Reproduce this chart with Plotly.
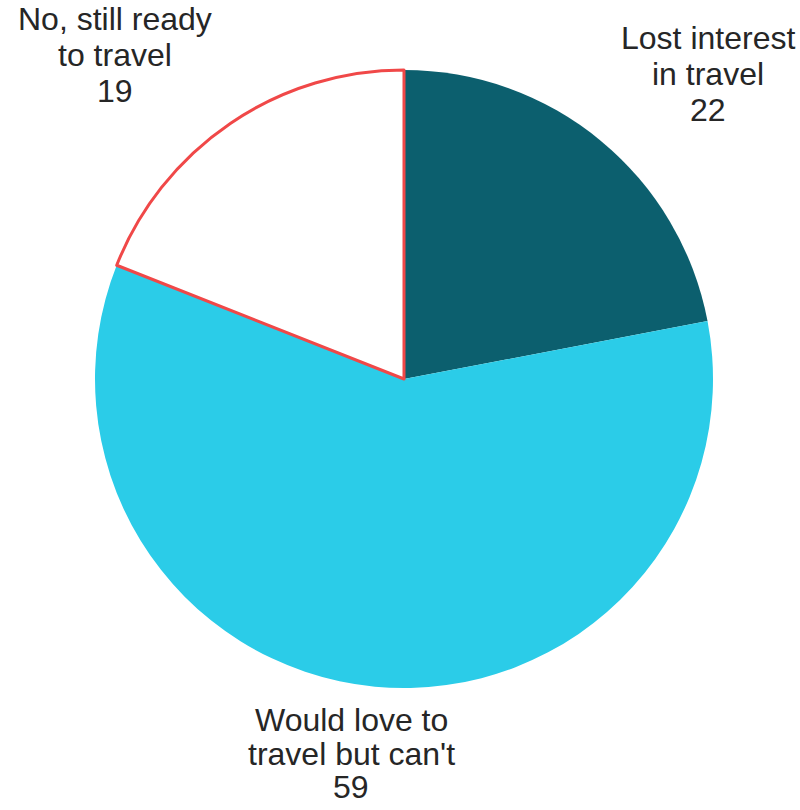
import math
import plotly.graph_objects as go

labels = ["Lost interest<br>in travel", "Would love to<br>travel but can't", "No, still ready<br>to travel"]
values = [22, 59, 19]
colors = ["#0c5f6e", "#2bcce8", "#ffffff"]
line_colors = ["rgba(0,0,0,0)", "rgba(0,0,0,0)", "#f04848"]
line_widths = [0, 0, 3]

W, H = 800, 810
CX, CY, R = 404, 379, 309          # pie centre and radius in px
FONT = 32
LINE_H_TOP = 36
LINE_H_BOTTOM = 33.5
LABEL_R = 1.055 * R

# approximate Arial advance widths (per 1000 em) to centre label lines
AW = {" ": 278, ",": 278, "'": 191, "L": 556, "N": 722, "W": 944,
      "a": 556, "b": 556, "c": 500, "d": 556, "e": 556, "i": 222, "l": 222,
      "n": 556, "o": 556, "r": 333, "s": 500, "t": 278, "u": 556, "v": 500, "y": 500}


def text_w(s):
    return sum(AW.get(ch, 556) for ch in s) * FONT / 1000


fig = go.Figure(go.Pie(
    labels=labels,
    values=values,
    sort=False,
    direction="clockwise",
    rotation=0,
    marker=dict(colors=colors, line=dict(color=line_colors, width=line_widths)),
    textinfo="none",
    showlegend=False,
    domain=dict(x=[(CX - R) / W, (CX + R) / W], y=[1 - (CY + R) / H, 1 - (CY - R) / H]),
    hoverinfo="label+value",
))

total = sum(values)
cum = 0
annotations = []
for lab, val in zip(labels, values):
    mid = (cum + val / 2) / total * 2 * math.pi
    cum += val
    s, c = math.sin(mid), math.cos(mid)
    ax = CX + LABEL_R * s
    ay = CY - LABEL_R * c
    lines = lab.split("<br>") + [str(val)]
    bw = max(text_w(t) for t in lines)
    frac = min(1.0, max(0.0, 0.5 - s))
    bcx = ax - frac * bw + bw / 2 + 9 * max(-1.0, min(1.0, s / 0.3))
    n = len(lines)
    for i, t in enumerate(lines):
        if c > 0:
            ly = ay - LINE_H_TOP * (n - 1 - i + 0.5)
        else:
            ly = ay + LINE_H_BOTTOM * (i + 0.5)
        annotations.append(dict(
            x=bcx / W, y=1 - ly / H, xref="paper", yref="paper",
            text=t, showarrow=False, xanchor="center", yanchor="middle",
            font=dict(family="Liberation Sans, Arial, sans-serif", size=FONT, color="#262626"),
        ))

fig.update_layout(
    width=W, height=H,
    margin=dict(l=0, r=0, t=0, b=0),
    paper_bgcolor="white",
    plot_bgcolor="white",
    annotations=annotations,
)
fig.write_html(
    "out.html",
    config={"displayModeBar": False},
    post_script="document.body.style.margin='0';document.body.style.overflow='hidden';",
)
